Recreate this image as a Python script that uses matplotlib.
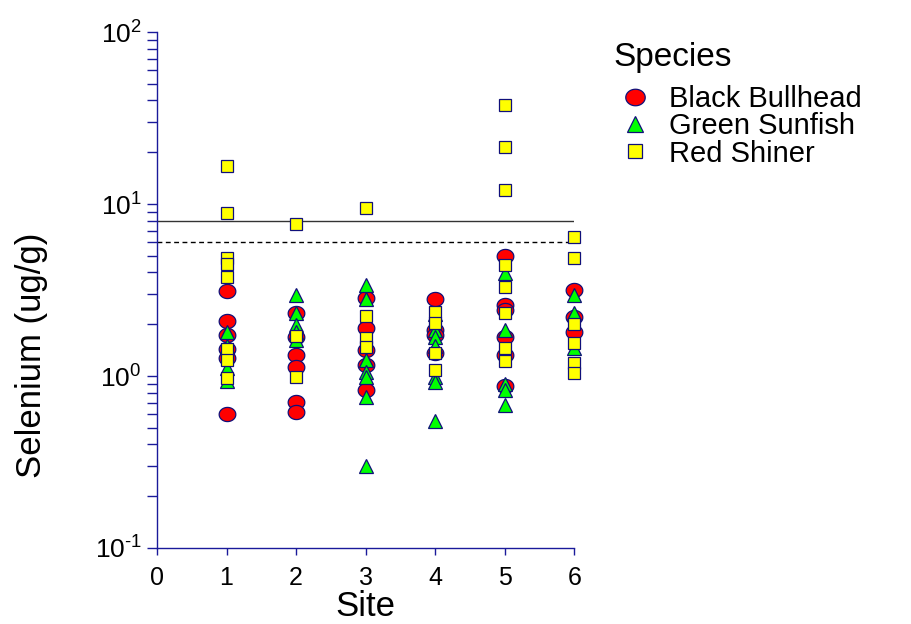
import numpy as np
import matplotlib
matplotlib.use("Agg")
import matplotlib.pyplot as plt
from matplotlib.ticker import FuncFormatter

# selenium (ug/g) read per site for each species
bullhead_site = [1, 1, 1, 1, 1, 1,
                 2, 2, 2, 2, 2, 2,
                 3, 3, 3, 3, 3,
                 4, 4, 4, 4,
                 5, 5, 5, 5, 5, 5,
                 6, 6, 6]
bullhead_se = [3.12, 2.10, 1.73, 1.44, 1.27, 0.60,
               2.32, 1.69, 1.32, 1.13, 0.71, 0.62,
               2.84, 1.90, 1.42, 1.16, 0.83,
               2.80, 1.85, 1.73, 1.36,
               4.99, 2.59, 2.42, 1.69, 1.32, 0.88,
               3.16, 2.20, 1.80]

sunfish_site = [1, 1, 1, 1,
                2, 2, 2, 2, 2,
                3, 3, 3, 3, 3, 3, 3,
                4, 4, 4, 4, 4, 4, 4,
                5, 5, 5, 5, 5,
                6, 6, 6]
sunfish_se = [1.80, 1.50, 1.11, 0.93,
              2.96, 2.32, 1.98, 1.80, 1.62,
              3.38, 2.80, 1.24, 1.06, 0.99, 0.76, 0.30,
              2.30, 1.85, 1.69, 1.49, 0.99, 0.92, 0.55,
              3.97, 1.85, 0.90, 0.83, 0.68,
              2.96, 2.32, 1.45]

shiner_site = [1, 1, 1, 1, 1, 1, 1, 1,
               2, 2, 2,
               3, 3, 3, 3,
               4, 4, 4, 4,
               5, 5, 5, 5, 5, 5, 5, 5,
               6, 6, 6, 6, 6, 6]
shiner_se = [16.6, 8.87, 4.85, 4.48, 3.76, 1.44, 1.24, 0.97,
             7.65, 1.71, 0.99,
             9.48, 2.23, 1.66, 1.47,
             2.36, 2.03, 1.36, 1.08,
             37.6, 21.4, 12.1, 4.40, 3.29, 2.33, 1.45, 1.22,
             6.43, 4.85, 2.00, 1.55, 1.19, 1.04]

criteria = [8, 6]
site_ticks = [0, 1, 2, 3, 4, 5, 6]

plt.rcParams['font.family'] = ['Liberation Sans', 'DejaVu Sans']
plt.rcParams['mathtext.fontset'] = 'custom'
plt.rcParams['mathtext.rm'] = 'Liberation Sans'
plt.rcParams['mathtext.it'] = 'Liberation Sans:italic'
plt.rcParams['axes.unicode_minus'] = False

NAVY = '#1a1a9a'
EDGE = '#10107a'


def pow10(v, pos):
    # plain hyphen in the exponent, as in the original
    e = int(round(np.log10(v)))
    s = str(e).replace('-', r'\text{-}')
    return r'$\mathdefault{10^{%s}}$' % s


fig = plt.figure(figsize=(9.11, 6.24), dpi=100)
ax = fig.add_axes([0.1723, 0.1218, 0.4580, 0.8269])

# slightly flattened circle like the original
t = np.linspace(0, 2 * np.pi, 60)
ellipse = np.column_stack([np.cos(t), 0.85 * np.sin(t)])

ax.axhline(criteria[0], color='#333333', lw=1.0, zorder=1)
ax.axhline(criteria[1], color='black', lw=1.0, ls=(0, (3.5, 2.5)), zorder=1)

ax.plot(bullhead_site, bullhead_se, ls='none', marker=ellipse, ms=12,
        mfc='#ff0000', mec=EDGE, mew=0.9, label='Black Bullhead',
        zorder=3, clip_on=False)
ax.plot(sunfish_site, sunfish_se, ls='none', marker='^', ms=10,
        mfc='#00ff00', mec=EDGE, mew=0.9, label='Green Sunfish',
        zorder=4, clip_on=False)
ax.plot(shiner_site, shiner_se, ls='none', marker='s', ms=8,
        mfc='#ffff00', mec=EDGE, mew=0.9, label='Red Shiner',
        zorder=5, clip_on=False)

ax.set_yscale('log')
ax.set_ylim(0.1, 100)
ax.set_xlim(0, 6)
ax.set_xticks(site_ticks)
ax.yaxis.set_major_formatter(FuncFormatter(pow10))

for side in ['top', 'right']:
    ax.spines[side].set_visible(False)
for side in ['left', 'bottom']:
    ax.spines[side].set_color(NAVY)
    ax.spines[side].set_linewidth(1.0)

ax.tick_params(axis='y', which='both', direction='out', length=7, width=1,
               color=NAVY, labelsize=19, pad=4)
ax.tick_params(axis='x', which='both', direction='out', length=5, width=1,
               color=NAVY, labelsize=18, pad=8)

ax.set_xlabel('Site', fontsize=25, labelpad=0)
ax.set_ylabel('Selenium (ug/g)', fontsize=25)
ax.yaxis.set_label_coords(-0.262, 0.374)

leg = ax.legend(loc='upper left', bbox_to_anchor=(1.0935, 0.981), frameon=False,
                fontsize=21, title='Species', title_fontsize=24,
                labelspacing=-0.03, handletextpad=0.4, handlelength=1.5,
                borderpad=0, borderaxespad=0)
leg._legend_box.align = 'left'
leg._legend_box.sep = 9
for h, ms in zip(leg.legend_handles, [14, 12, 9.5]):
    h.set_markersize(ms)

fig.savefig('out.png', dpi=100)
